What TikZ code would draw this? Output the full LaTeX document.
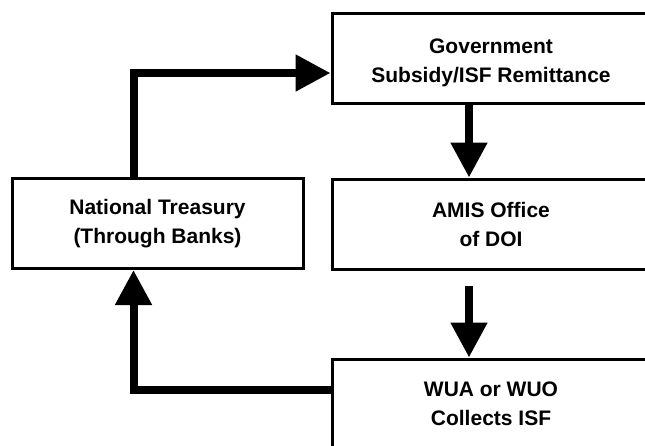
\documentclass[tikz,border=0pt]{standalone}
\usepackage{fontspec}
\setmainfont{Liberation Sans}
\usetikzlibrary{arrows.meta}

\begin{document}
\begin{tikzpicture}[x=1pt,y=-1pt,
  box/.style={draw, line width=3pt, rectangle, inner sep=0pt,
    minimum height=90pt, align=center,
    font=\fontsize{21}{29}\selectfont\bfseries},
  wide/.style={box, minimum width=318pt},
  flow/.style={line width=8pt, line join=miter,
    -{Triangle[length=35pt,width=35pt]}}]
  \useasboundingbox (0,0) rectangle (645,445);
  \clip (0,0) rectangle (645,445);

  % boxes
  \node[wide] (gov) at (491,58) {\rule{0pt}{25pt}Government\\Subsidy/ISF Remittance};
  \node[box, minimum width=291pt] (tre) at (157.5,223.5) {National Treasury\\(Through Banks)};
  \node[wide] (ami) at (491,224) {AMIS Office\\of DOI};
  \node[wide] (wua) at (491,404) {WUA or WUO\\Collects ISF};

  % money flow
  \draw[flow] ([xshift=123pt]tre.north west) |- ([yshift=-15pt]gov.west);
  \draw[flow] ([xshift=-22pt]gov.south) -- ([xshift=-22pt]ami.north);
  \coordinate (amiout) at ([xshift=-22pt,yshift=-15pt]ami.south);
  \draw[flow] (amiout) -- ([xshift=-22pt]wua.north);
  \draw[flow] ([yshift=14pt]wua.west) -| ([xshift=123pt]tre.south west);
\end{tikzpicture}
\end{document}
